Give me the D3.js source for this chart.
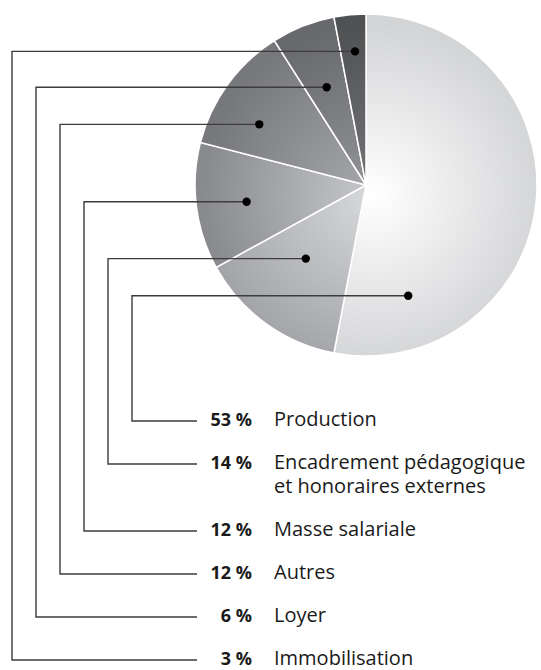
<!DOCTYPE html>
<html>
<head>
<meta charset="utf-8">
<script src="https://cdn.jsdelivr.net/npm/d3@7"></script>
<style>
  html, body { margin: 0; padding: 0; background: #fff; }
  svg { display: block; font-family: "Open Sans", "Noto Sans", sans-serif; }
</style>
</head>
<body>
<div id="chart"></div>
<script>
// data
const categories = ['Production', 'Encadrement pédagogique\net honoraires externes', 'Masse salariale', 'Autres', 'Loyer', 'Immobilisation'];
const shares = [53, 14, 12, 12, 6, 3];
const percentLabels = ['53 %', '14 %', '12 %', '12 %', '6 %', '3 %'];

// slice fills: inner (near centre) and outer tone
const innerTones = ['#ffffff', '#d8d9db', '#c8c9cb', '#a8a9ac', '#949598', '#747578'];
const outerTones = ['#d3d4d6', '#a3a4a7', '#898a8d', '#77787b', '#68696c', '#505153'];

// where the leader dot sits inside each slice (fraction of the slice angle, fraction of radius)
const dotAngleFrac = [0.834, 0.565, 0.481, 0.352, 0.486, 0.565];
const dotRadiusFrac = [0.693, 0.556, 0.705, 0.718, 0.616, 0.784];

const width = 541, height = 670;
const cx = 366, cy = 185, radius = 171;

const svg = d3.select('#chart').append('svg')
  .attr('width', width)
  .attr('height', height);

// gradients live in the pie group's coords (origin = pie centre)
const defs = svg.append('defs');
shares.forEach((d, i) => {
  const g = defs.append('radialGradient')
    .attr('id', 'grad' + i)
    .attr('gradientUnits', 'userSpaceOnUse')
    .attr('cx', 8).attr('cy', 10)
    .attr('r', radius);
  g.append('stop').attr('offset', '0%').attr('stop-color', innerTones[i]);
  g.append('stop').attr('offset', '100%').attr('stop-color', outerTones[i]);
});

const pie = d3.pie().sort(null).value(d => d);
const arcs = pie(shares);
const arc = d3.arc().innerRadius(0).outerRadius(radius);

const pieG = svg.append('g').attr('transform', `translate(${cx},${cy})`);
pieG.selectAll('path')
  .data(arcs)
  .enter().append('path')
  .attr('d', arc)
  .attr('fill', (d, i) => `url(#grad${i})`)
  .attr('stroke', '#fff')
  .attr('stroke-width', 1.5);

// label layout
const lineEndX = 197;
const pctRightX = 252;
const nameX = 274;
const labelTop = 421, labelStep = 43, extraLineStep = 24;
const leaderX = d3.scaleLinear().domain([0, shares.length - 1]).range([132, 12]);

let y = labelTop;
const labelY = categories.map((c, i) => {
  const cur = y;
  const lines = c.split('\n').length;
  y += labelStep + extraLineStep * (lines - 1);
  return cur;
});

const dots = arcs.map((a, i) => {
  const ang = a.startAngle + (a.endAngle - a.startAngle) * dotAngleFrac[i];
  const p = d3.pointRadial(ang, radius * dotRadiusFrac[i]);
  return [cx + p[0], cy + p[1]];
});

const leaders = svg.append('g');
leaders.selectAll('path')
  .data(arcs)
  .enter().append('path')
  .attr('fill', 'none')
  .attr('stroke', '#3c3c3c')
  .attr('stroke-width', 1.4)
  .attr('d', (d, i) => {
    const x0 = leaderX(i);
    return d3.line()([dots[i], [x0, dots[i][1]], [x0, labelY[i]], [lineEndX, labelY[i]]]);
  });

leaders.selectAll('circle')
  .data(arcs)
  .enter().append('circle')
  .attr('cx', (d, i) => dots[i][0])
  .attr('cy', (d, i) => dots[i][1])
  .attr('r', 4.2)
  .attr('fill', '#000');

const labels = svg.append('g');
labels.selectAll('text.pct')
  .data(percentLabels)
  .enter().append('text')
  .attr('class', 'pct')
  .attr('x', pctRightX)
  .attr('y', (d, i) => labelY[i] + 5)
  .attr('text-anchor', 'end')
  .attr('font-size', 18)
  .attr('font-weight', 700)
  .attr('fill', '#1a1a1a')
  .text(d => d);

const names = labels.selectAll('text.name')
  .data(categories)
  .enter().append('text')
  .attr('class', 'name')
  .attr('x', nameX)
  .attr('y', (d, i) => labelY[i] + 5)
  .attr('font-size', 20)
  .attr('fill', '#1a1a1a');

names.selectAll('tspan')
  .data(d => d.split('\n'))
  .enter().append('tspan')
  .attr('x', nameX)
  .attr('dy', (d, j) => j === 0 ? 0 : 24)
  .text(d => d);
</script>
</body>
</html>
